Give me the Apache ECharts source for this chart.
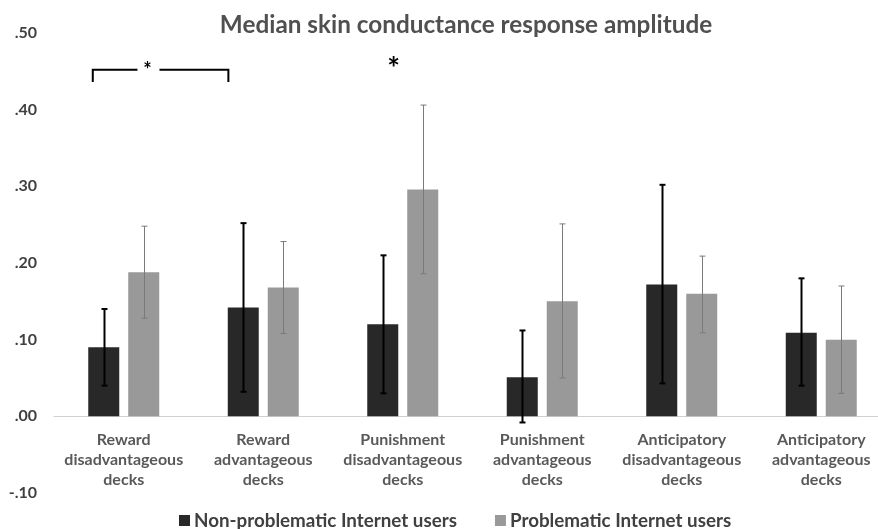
<!DOCTYPE html>
<html>
<head>
<meta charset="utf-8">
<script src="https://cdn.jsdelivr.net/npm/echarts@6/dist/echarts.min.js"></script>
<style>html,body{margin:0;padding:0;background:#fff;}#c{width:878px;height:529px;}</style>
</head>
<body>
<div id="c"></div>
<script>
var categories = [
  "Reward\ndisadvantageous\ndecks",
  "Reward\nadvantageous\ndecks",
  "Punishment\ndisadvantageous\ndecks",
  "Punishment\nadvantageous\ndecks",
  "Anticipatory\ndisadvantageous\ndecks",
  "Anticipatory\nadvantageous\ndecks"
];
var seriesNames = ["Non-problematic Internet users", "Problematic Internet users"];
var nonProblematic = [0.090, 0.142, 0.120, 0.051, 0.172, 0.109];
var nonProblematicLow = [0.040, 0.032, 0.030, -0.008, 0.043, 0.040];
var nonProblematicHigh = [0.140, 0.252, 0.210, 0.112, 0.302, 0.180];
var problematic = [0.188, 0.168, 0.296, 0.150, 0.160, 0.100];
var problematicLow = [0.128, 0.108, 0.186, 0.050, 0.109, 0.030];
var problematicHigh = [0.248, 0.228, 0.406, 0.251, 0.209, 0.170];
var yTicks = [-0.1, 0, 0.1, 0.2, 0.3, 0.4, 0.5];

var FONT = "Lato";
var BAR_W = 31, GAP = 9;
var GRID_H = 460;
var zeroOffset = GRID_H * (0 - yTicks[0]) / (yTicks[yTicks.length - 1] - yTicks[0]);

function errData(low, high) {
  return categories.map(function (c, i) { return [i, low[i], high[i]]; });
}
function errSeries(low, high, side, color, lw) {
  return {
    type: 'custom',
    silent: true,
    z: 5,
    data: errData(low, high),
    renderItem: function (params, api) {
      var i = api.value(0);
      var off = side * (BAR_W + GAP) / 2;
      var pLo = api.coord([i, api.value(1)]);
      var pHi = api.coord([i, api.value(2)]);
      var x = Math.round(pLo[0] + off) + 0.5;
      var cap = 3;
      var st = { stroke: color, lineWidth: lw };
      return {
        type: 'group',
        children: [
          { type: 'line', shape: { x1: x, y1: pLo[1], x2: x, y2: pHi[1] }, style: st },
          { type: 'line', shape: { x1: x - cap, y1: pLo[1], x2: x + cap, y2: pLo[1] }, style: st },
          { type: 'line', shape: { x1: x - cap, y1: pHi[1], x2: x + cap, y2: pHi[1] }, style: st }
        ]
      };
    }
  };
}

var chart = echarts.init(document.getElementById('c'));
var option = {
  animation: false,
  backgroundColor: '#ffffff',
  title: {
    text: 'Median skin conductance response amplitude',
    left: 461, top: 8, textAlign: 'center',
    textStyle: { fontFamily: FONT, fontWeight: 'bold', fontSize: 24.3, color: '#505050' }
  },
  legend: {
    data: seriesNames,
    left: 174, top: 506,
    itemWidth: 11, itemHeight: 11, itemGap: 38,
    icon: 'rect',
    textStyle: { fontFamily: FONT, fontWeight: 'bold', fontSize: 18.8, color: '#404040', padding: [0, 0, 0, -1] }
  },
  grid: { left: 54, top: 33, width: 837, height: GRID_H, containLabel: false, outerBoundsMode: 'none' },
  xAxis: {
    type: 'category',
    data: categories,
    offset: -zeroOffset,
    axisLine: { onZero: false, lineStyle: { color: '#d0d0d0', width: 1 } },
    axisTick: { show: false },
    axisLabel: {
      interval: 0, margin: 14,
      fontFamily: FONT, fontWeight: 'bold', fontSize: 16, lineHeight: 20, color: '#595959'
    }
  },
  yAxis: {
    type: 'value',
    min: yTicks[0], max: yTicks[yTicks.length - 1], interval: 0.1,
    splitLine: { show: false },
    axisLine: { show: false },
    axisTick: { show: false },
    axisLabel: {
      margin: 17,
      fontFamily: FONT, fontWeight: 'bold', fontSize: 16, color: '#404040',
      formatter: function (v) {
        var s = (Math.round(v * 100) / 100).toFixed(2);
        return s.replace('0.', '.');
      }
    }
  },
  series: [
    {
      name: seriesNames[0], type: 'bar', data: nonProblematic,
      barWidth: BAR_W, barGap: (GAP / BAR_W * 100).toFixed(1) + '%',
      itemStyle: { color: '#282828' }
    },
    {
      name: seriesNames[1], type: 'bar', data: problematic,
      barWidth: BAR_W,
      itemStyle: { color: '#999999' }
    },
    errSeries(nonProblematicLow, nonProblematicHigh, -1, '#000000', 2),
    errSeries(problematicLow, problematicHigh, 1, '#7a7a7a', 1)
  ]
};
chart.setOption(option);

// significance annotations, placed in data space
var band = 837 / categories.length;
function px(cat, frac, val) {
  var p = chart.convertToPixel({ xAxisIndex: 0, yAxisIndex: 0 }, [cat, val]);
  return [p[0] + frac * band, p[1]];
}
var bL = px(0, -0.222, 0.452), bR = px(1, -0.25, 0.452);
var bLd = px(0, -0.222, 0.436), bRd = px(1, -0.25, 0.436);
var star1 = px(0, 0.17, 0.452);
var star2 = px(2, -0.065, 0.46);
chart.setOption({
  graphic: [
    { type: 'polyline', shape: { points: [[bLd[0], bLd[1]], [bL[0], bL[1]], [star1[0] - 10, bL[1]]] }, style: { stroke: '#000', lineWidth: 2, fill: null } },
    { type: 'polyline', shape: { points: [[star1[0] + 12, bR[1]], [bR[0], bR[1]], [bRd[0], bRd[1]]] }, style: { stroke: '#000', lineWidth: 2, fill: null } },
    { type: 'text', x: star1[0], y: star1[1] + 1, style: { text: '*', fontFamily: FONT, fontWeight: 'bold', fontSize: 20, fill: '#000', align: 'center', verticalAlign: 'middle' } },
    { type: 'text', x: star2[0], y: star2[1] + 6, style: { text: '*', fontFamily: FONT, fontWeight: 'bold', fontSize: 30, fill: '#000', align: 'center', verticalAlign: 'middle' } }
  ]
});
</script>
</body>
</html>
